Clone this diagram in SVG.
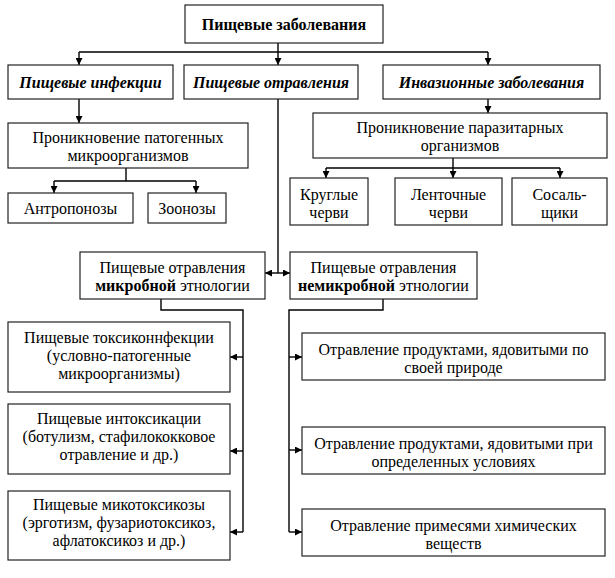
<svg xmlns="http://www.w3.org/2000/svg" width="615" height="578" viewBox="0 0 615 578">
<style>
rect.b{fill:#fff;stroke:#222;stroke-width:1.2}
text{font-family:"Liberation Serif","Times New Roman",serif;font-size:16px;fill:#000;text-anchor:middle}
.bd{font-weight:bold}
.bi{font-weight:bold;font-style:italic}
.c{fill:none;stroke:#000;stroke-width:1.4}
</style>
<defs>
<marker id="ah" viewBox="0 0 10 10" refX="10" refY="5" markerWidth="8" markerHeight="7" markerUnits="userSpaceOnUse" orient="auto-start-reverse">
<path d="M0,0L10,5L0,10z" fill="#000"/>
</marker>
</defs>
<rect width="615" height="578" fill="#fff"/>
<g id="connectors">
<path class="c" d="M278,43V52M79,52H488"/>
<path class="c" d="M79,52V65" marker-end="url(#ah)"/>
<path class="c" d="M278,52V65" marker-end="url(#ah)"/>
<path class="c" d="M488,52V65" marker-end="url(#ah)"/>
<path class="c" d="M79,99V123" marker-end="url(#ah)"/>
<path class="c" d="M488,99V113" marker-end="url(#ah)"/>
<path class="c" d="M126,168V181M54,181H196"/>
<path class="c" d="M54,181V193" marker-end="url(#ah)"/>
<path class="c" d="M196,181V193" marker-end="url(#ah)"/>
<path class="c" d="M453,158V168M326,168H560"/>
<path class="c" d="M326,168V178" marker-end="url(#ah)"/>
<path class="c" d="M453,168V178" marker-end="url(#ah)"/>
<path class="c" d="M560,168V178" marker-end="url(#ah)"/>
<path class="c" d="M278,99V273"/>
<path class="c" d="M265,273H290" marker-start="url(#ah)" marker-end="url(#ah)"/>
<path class="c" d="M161,299V310H243V532"/>
<path class="c" d="M243,357H230" marker-end="url(#ah)"/>
<path class="c" d="M243,451H230" marker-end="url(#ah)"/>
<path class="c" d="M243,532H230" marker-end="url(#ah)"/>
<path class="c" d="M383,299V310H289V532"/>
<path class="c" d="M289,357H302" marker-end="url(#ah)"/>
<path class="c" d="M289,450H302" marker-end="url(#ah)"/>
<path class="c" d="M289,532H302" marker-end="url(#ah)"/>
</g>
<g id="n-root"><rect class="b" x="185" y="5" width="198" height="38"/><text class="bd" x="284" y="29.5">Пищевые заболевания</text></g>
<g id="n-inf"><rect class="b" x="8" y="65" width="165" height="34"/><text class="bi" x="90.5" y="87.5">Пищевые инфекции</text></g>
<g id="n-otr"><rect class="b" x="184" y="65" width="174" height="34"/><text class="bi" x="271" y="87.5">Пищевые отравления</text></g>
<g id="n-inv"><rect class="b" x="383" y="65" width="217" height="34"/><text class="bi" x="491.5" y="87.5">Инвазионные заболевания</text></g>
<g id="n-pat"><rect class="b" x="8" y="123" width="240" height="45"/><text x="128" y="143">Проникновение патогенных</text><text x="128" y="161">микроорганизмов</text></g>
<g id="n-antr"><rect class="b" x="8" y="193" width="125" height="30"/><text x="70.5" y="213.5">Антропонозы</text></g>
<g id="n-zoo"><rect class="b" x="148" y="193" width="78" height="30"/><text x="187" y="213.5">Зоонозы</text></g>
<g id="n-par"><rect class="b" x="313" y="113" width="294" height="45"/><text x="460" y="132.5">Проникновение паразитарных</text><text x="460" y="150.5">организмов</text></g>
<g id="n-krug"><rect class="b" x="290" y="178" width="78" height="47"/><text x="329" y="199.5">Круглые</text><text x="329" y="217.5">черви</text></g>
<g id="n-lent"><rect class="b" x="395" y="178" width="107" height="47"/><text x="448.5" y="199.5">Ленточные</text><text x="448.5" y="217.5">черви</text></g>
<g id="n-sos"><rect class="b" x="512" y="178" width="95" height="47"/><text x="559.5" y="199.5">Сосаль-</text><text x="559.5" y="217.5">щики</text></g>
<g id="n-mikr"><rect class="b" x="80" y="252" width="185" height="47"/><text x="172.5" y="272.5">Пищевые отравления</text><text x="172.5" y="290.5"><tspan class="bd">микробной</tspan> этнологии</text></g>
<g id="n-nemikr"><rect class="b" x="290" y="252" width="187" height="47"/><text x="383.5" y="272.5">Пищевые отравления</text><text x="383.5" y="290.5"><tspan class="bd">немикробной</tspan> этнологии</text></g>
<g id="n-tox"><rect class="b" x="8" y="322" width="222" height="70"/><text x="119" y="342.5">Пищевые токсиконнфекции</text><text x="119" y="360.5">(условно-патогенные</text><text x="119" y="378.5">микроорганизмы)</text></g>
<g id="n-int"><rect class="b" x="8" y="404" width="222" height="70"/><text x="119" y="424">Пищевые интоксикации</text><text x="119" y="442">(ботулизм, стафилококковое</text><text x="119" y="460">отравление и др.)</text></g>
<g id="n-mik"><rect class="b" x="8" y="491" width="222" height="69"/><text x="119" y="509.5">Пищевые микотоксикозы</text><text x="119" y="527.5">(эрготизм, фузариотоксикоз,</text><text x="119" y="545.5">афлатоксикоз и др.)</text></g>
<g id="n-r1"><rect class="b" x="302" y="333" width="303" height="47"/><text x="453.5" y="354.5">Отравление продуктами, ядовитыми по</text><text x="453.5" y="372.5">своей природе</text></g>
<g id="n-r2"><rect class="b" x="302" y="427" width="303" height="47"/><text x="453.5" y="448.5">Отравление продуктами, ядовитыми при</text><text x="453.5" y="466.5">определенных условиях</text></g>
<g id="n-r3"><rect class="b" x="302" y="509" width="303" height="47"/><text x="453.5" y="530.5">Отравление примесями химических</text><text x="453.5" y="548.5">веществ</text></g>
</svg>
